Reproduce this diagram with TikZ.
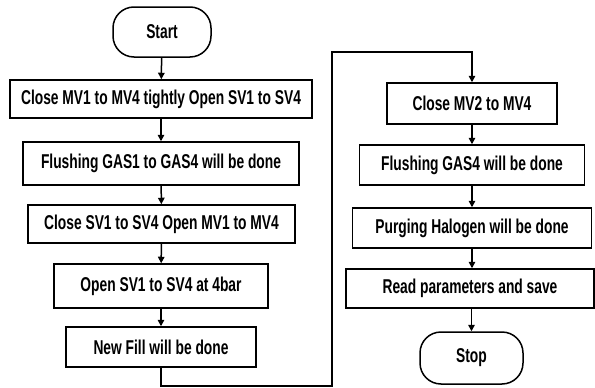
\documentclass[tikz,border=0pt]{standalone}
\usepackage{fontspec}
\setmainfont[FakeStretch=0.69]{Liberation Sans}
\usetikzlibrary{arrows.meta}
\tikzset{
  stepbox/.style={draw, line width=1.5pt, inner sep=0pt, font=\bfseries\fontsize{20}{23}\selectfont},
  terminal/.style={stepbox, rounded corners=21pt},
  flow/.style={line width=1.5pt, -{Triangle[length=6.5pt,width=6.5pt]}},
}
\begin{document}
\begin{tikzpicture}[x=1pt, y=-1pt]
\useasboundingbox (0,0) rectangle (595,388);
% left column
\node[terminal, minimum width=98pt, minimum height=50pt] (start) at (162,32) {Start};
\node[stepbox, minimum width=302pt, minimum height=38pt] (b1) at (161,99) {Close MV1 to MV4 tightly Open SV1 to SV4};
\node[stepbox, minimum width=276pt, minimum height=43pt] (b2) at (161,163.5) {Flushing GAS1 to GAS4 will be done};
\node[stepbox, minimum width=267pt, minimum height=38pt] (b3) at (161.5,224) {Close SV1 to SV4 Open MV1 to MV4};
\node[stepbox, minimum width=214pt, minimum height=44pt] (b4) at (161,286) {Open SV1 to SV4 at 4bar};
\node[stepbox, minimum width=190pt, minimum height=40pt] (b5) at (161,347) {New Fill will be done};
% right column
\node[stepbox, minimum width=170pt, minimum height=41pt] (b6) at (472,103.5) {Close MV2 to MV4};
\node[stepbox, minimum width=225pt, minimum height=40pt] (b7) at (472,165) {Flushing GAS4 will be done};
\node[stepbox, minimum width=239pt, minimum height=40pt] (b8) at (472,228) {Purging Halogen will be done};
\node[stepbox, minimum width=248pt, minimum height=39pt] (b9) at (470,288.5) {Read parameters and save};
\node[terminal, minimum width=103pt, minimum height=52pt] (stop) at (471.5,358) {Stop};
% loop-back corners between the columns
\coordinate (c1) at (161,386);
\coordinate (c2) at (332,386);
\coordinate (c3) at (332,52);
\coordinate (c4) at (472,52);
% connectors
\draw[flow] (start) -- (b1);
\draw[flow] (b1) -- (b2);
\draw[flow] (b2) -- (b3);
\draw[flow] (b3) -- (b4);
\draw[flow] (b4) -- (b5);
\draw[flow] (b5.south) -- (c1) -- (c2) -- (c3) -- (c4) -- (b6.north);
\draw[flow] (b6) -- (b7);
\draw[flow] (b7) -- (b8);
\draw[flow] (b8) -- (b9.north -| b8.south);
\draw[flow] (b9.south -| stop.north) -- (stop);
\end{tikzpicture}
\end{document}
